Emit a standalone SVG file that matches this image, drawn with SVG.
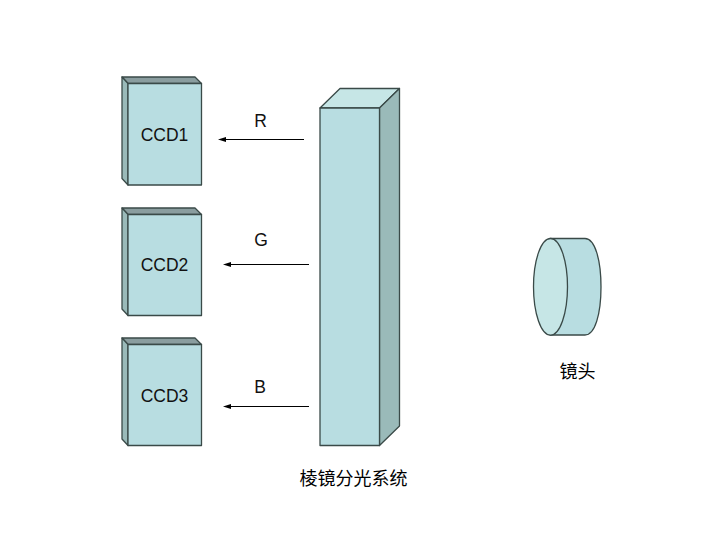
<svg xmlns="http://www.w3.org/2000/svg" width="720" height="540" viewBox="0 0 720 540">
<defs>
<marker id="arrow" markerUnits="userSpaceOnUse" markerWidth="9" markerHeight="6" refX="1" refY="3" orient="auto"><path d="M8 3L0 0.500V5.500Z" fill="#000"/></marker>
</defs>
<style>
.e{stroke:#3a4a48;stroke-width:1.3;stroke-linejoin:round}
.f{fill:#b8dde1}.s{fill:#9abab9}.t{fill:#8a9d9f}.l{fill:#c6e6e6}
text{font-family:"Liberation Sans","Noto Sans CJK SC",sans-serif;font-size:17.500px;fill:#111}
.c{font-family:"Noto Sans CJK SC","Liberation Sans",sans-serif;font-size:18px;font-weight:400;fill:#000}
.a{stroke:#000;stroke-width:1;fill:none}
</style>
<rect width="720" height="540" fill="#fff"/>
<g id="ccd1">
<path class="e t" d="M122 77H195L201.500 83.500H128Z"/><path class="e s" d="M122 77V178.500L128 185V83.500Z"/><rect class="e f" x="128" y="83.500" width="73.500" height="101.500"/>
<text x="164.500" y="141" text-anchor="middle">CCD1</text></g>
<g id="ccd2">
<path class="e t" d="M122 208H195L201.500 214.500H128Z"/><path class="e s" d="M122 208V309L128 315.500V214.500Z"/><rect class="e f" x="128" y="214.500" width="73.500" height="101"/>
<text x="164.500" y="271" text-anchor="middle">CCD2</text></g>
<g id="ccd3">
<path class="e t" d="M122 338H195L201.500 344.500H128Z"/><path class="e s" d="M122 338V439L128 445.500V344.500Z"/><rect class="e f" x="128" y="344.500" width="73.500" height="101"/>
<text x="164.500" y="402" text-anchor="middle">CCD3</text></g>
<g id="prism">
<path class="e l" d="M320 108L340 88.500H399.500L379.500 108Z"/><path class="e s" d="M379.500 108L399.500 88.500V426L379.500 445.500Z"/><rect class="e f" x="320" y="108" width="59.500" height="337.500"/>
<text class="c" x="353.500" y="485" text-anchor="middle">棱镜分光系统</text></g>
<g id="lens">
<path class="e f" d="M550 238.500H585C595 238.500 601 260 601 287S595 335 585 335H550Z"/><ellipse class="e l" cx="550.500" cy="286.800" rx="17" ry="48.300"/>
<text class="c" x="577.500" y="378" text-anchor="middle">镜头</text></g>
<g id="connectors">
<line class="a" x1="304" y1="139.500" x2="225" y2="139.500" marker-end="url(#arrow)"/>
<line class="a" x1="309" y1="264.500" x2="230" y2="264.500" marker-end="url(#arrow)"/>
<line class="a" x1="309" y1="406.500" x2="230" y2="406.500" marker-end="url(#arrow)"/>
</g>
<g id="labels">
<text x="260.500" y="127" text-anchor="middle">R</text>
<text x="261" y="246" text-anchor="middle">G</text>
<text x="260" y="392.500" text-anchor="middle">B</text>
</g>
</svg>
